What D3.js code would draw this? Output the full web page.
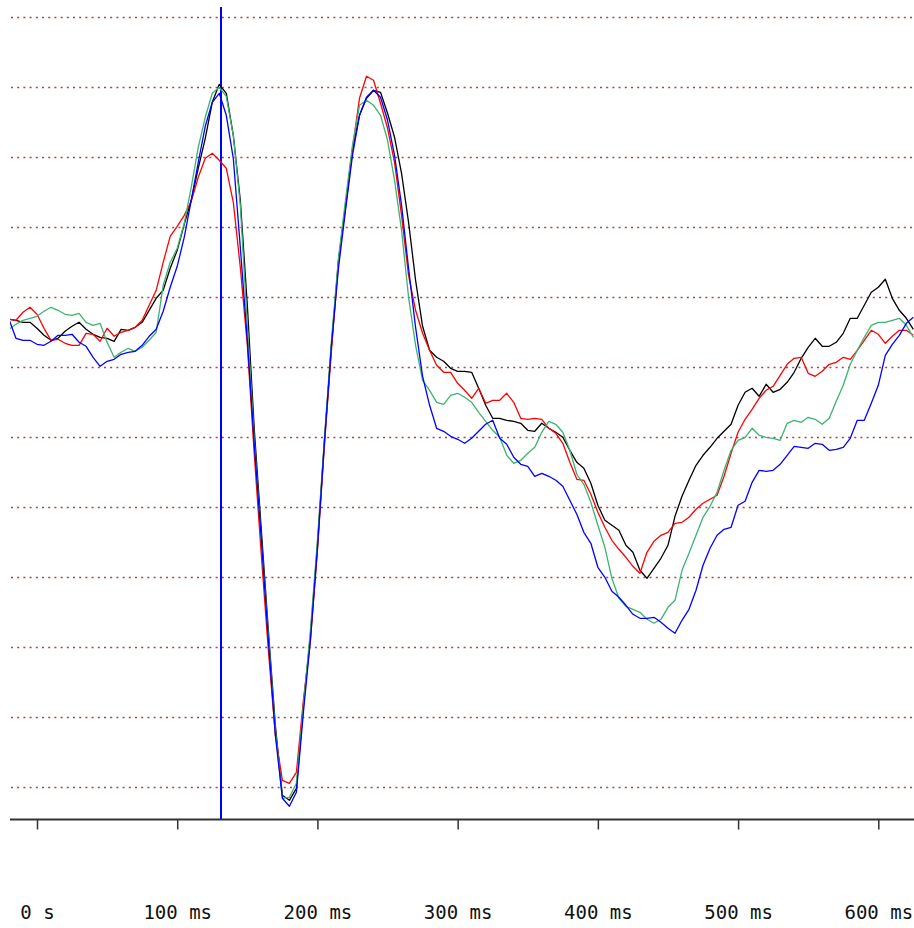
<!DOCTYPE html>
<html>
<head>
<meta charset="utf-8">
<script src="https://cdn.jsdelivr.net/npm/d3@7"></script>
<style>
  html, body { margin: 0; padding: 0; background: #ffffff; }
  svg { display: block; }
</style>
</head>
<body>
<svg id="chart" width="914" height="928"></svg>
<script>
// ---- data (amplitude, arbitrary units; sampled every 5 ms from -20 ms) ----
const sampleStartMs = -20;
const sampleStepMs = 5;

const seriesNames = ["black", "red", "green", "blue"];

const blackValues = [
  -2.2,-2.3,-2.5,-2.5,-3.1,-3.8,-4.3,-4.1,-3.4,-2.9,
  -2.5,-3.2,-3.7,-4.0,-4.1,-4.4,-3.2,-3.3,-3.0,-2.5,
  -1.3,-0.1,0.7,2.9,4.7,7.3,9.7,12.9,15.9,19.5,
  21.3,20.4,16.2,9.7,-0.8,-13.3,-23.3,-33.3,-42.8,-49.8,
  -50.3,-49.1,-40.8,-33.8,-24.8,-14.3,-4.8,3.7,9.0,14.7,
  18.2,19.9,20.7,20.5,18.4,16.0,12.4,7.5,1.7,-2.9,
  -5.3,-6.0,-6.4,-7.1,-7.4,-7.4,-7.5,-9.1,-10.8,-12.1,
  -12.1,-12.3,-12.4,-12.6,-13.3,-13.4,-12.6,-13.1,-13.5,-14.0,
  -15.3,-16.5,-17.1,-18.6,-20.8,-22.3,-22.8,-23.3,-24.8,-25.5,
  -27.3,-28.1,-27.1,-26.1,-24.8,-21.9,-19.9,-18.3,-16.8,-15.8,
  -15.0,-14.1,-13.4,-12.7,-10.8,-9.5,-9.1,-9.9,-8.7,-9.5,
  -9.2,-8.5,-7.5,-6.1,-5.0,-4.1,-4.9,-4.9,-4.5,-3.6,
  -2.1,-2.1,-0.8,0.5,1.0,1.8,-0.1,-1.3,-2.1,-3.2
];

const redValues = [
  -2.2,-2.3,-1.5,-1.0,-1.7,-3.1,-4.3,-4.2,-4.6,-4.8,
  -4.8,-3.6,-3.7,-4.4,-3.1,-3.9,-3.5,-3.3,-3.0,-2.3,
  -0.8,0.7,3.5,6.1,7.1,8.2,9.6,12.0,13.9,14.4,
  13.7,12.9,9.5,3.0,-4.8,-15.8,-25.8,-35.3,-43.8,-48.3,
  -48.6,-47.5,-40.3,-34.3,-25.3,-14.8,-5.3,3.5,9.2,14.9,
  19.9,22.1,21.7,19.4,16.9,13.5,8.2,2.2,-1.3,-3.6,
  -5.3,-6.8,-7.5,-7.5,-8.6,-9.3,-10.1,-9.1,-10.6,-10.3,
  -10.3,-9.6,-10.5,-12.1,-12.2,-12.1,-12.2,-13.1,-13.6,-14.6,
  -16.5,-18.2,-18.3,-19.7,-21.5,-23.0,-24.3,-25.2,-26.0,-26.9,
  -27.6,-25.5,-24.4,-23.8,-23.5,-22.6,-22.5,-22.0,-21.2,-20.6,
  -20.2,-19.8,-17.9,-15.6,-13.5,-12.2,-11.2,-10.1,-9.3,-8.9,
  -7.8,-6.7,-6.1,-6.0,-7.6,-7.9,-7.4,-6.7,-6.5,-6.0,
  -6.2,-5.3,-4.3,-3.3,-3.7,-4.6,-3.9,-3.3,-3.3,-3.8
];

const greenValues = [
  -3.2,-2.7,-2.3,-2.1,-1.9,-1.4,-1.0,-1.3,-1.7,-1.8,
  -1.6,-2.5,-2.8,-2.6,-4.5,-6.0,-5.5,-5.1,-5.4,-5.0,
  -4.3,-3.5,1.2,3.5,4.9,7.4,11.0,15.0,18.0,20.4,
  21.0,20.1,16.2,9.2,-2.8,-14.3,-24.3,-33.8,-43.3,-50.1,
  -50.0,-48.6,-40.8,-33.3,-24.3,-14.1,-4.3,3.9,9.7,15.2,
  19.2,19.7,19.2,18.2,15.7,11.7,6.7,0.0,-4.8,-8.3,
  -9.3,-10.5,-10.7,-9.8,-9.6,-10.0,-10.5,-11.5,-12.4,-13.3,
  -14.0,-15.8,-16.6,-16.3,-15.6,-15.0,-13.5,-12.4,-12.7,-13.5,
  -15.3,-17.7,-18.7,-20.5,-22.8,-25.0,-28.1,-30.1,-30.9,-31.2,
  -31.5,-32.2,-32.6,-32.2,-31.0,-30.3,-27.3,-25.6,-23.8,-22.0,
  -20.9,-19.5,-17.3,-15.3,-14.3,-14.0,-13.1,-13.8,-14.0,-14.1,
  -14.3,-12.6,-12.3,-12.5,-12.0,-12.2,-12.7,-12.1,-10.4,-8.8,
  -6.7,-5.3,-4.0,-2.8,-2.5,-2.5,-2.3,-2.1,-2.8,-4.0
];

const blueValues = [
  -2.2,-4.1,-4.3,-4.3,-4.7,-4.8,-4.4,-3.8,-3.8,-3.7,
  -4.5,-4.9,-6.0,-6.9,-6.4,-6.2,-5.7,-5.5,-5.4,-4.8,
  -3.9,-3.2,-1.4,1.0,3.1,6.0,9.7,13.5,17.1,19.5,
  20.4,18.2,13.9,5.0,-4.3,-14.8,-24.3,-34.3,-43.8,-50.1,
  -50.9,-49.5,-41.5,-34.3,-25.1,-14.5,-4.8,2.9,8.7,14.2,
  18.2,20.0,20.7,20.0,17.7,14.2,9.2,2.9,-3.0,-7.9,
  -10.8,-13.1,-13.4,-13.9,-14.2,-14.6,-14.1,-13.4,-12.7,-12.3,
  -14.1,-14.7,-16.0,-16.7,-16.9,-17.9,-17.6,-17.9,-18.3,-18.9,
  -20.3,-21.7,-23.5,-24.6,-27.0,-28.0,-29.4,-30.0,-30.8,-31.7,
  -32.1,-32.1,-32.0,-32.5,-33.1,-33.6,-32.3,-31.2,-29.3,-26.8,
  -25.1,-23.8,-23.2,-23.0,-20.8,-20.4,-18.5,-17.3,-17.4,-17.3,
  -16.7,-15.8,-14.9,-15.0,-15.1,-14.6,-14.7,-15.3,-15.2,-15.0,
  -14.1,-12.3,-12.3,-10.6,-8.8,-5.8,-4.7,-3.8,-2.6,-2.0
];

const tickValuesMs = [0, 100, 200, 300, 400, 500, 600];
const tickLabels = ["0 s", "100 ms", "200 ms", "300 ms", "400 ms", "500 ms", "600 ms"];
const gridValues = [28, 21, 14, 7, 0, -7, -14, -21, -28, -35, -42, -49];
const cursorMs = 131;

// ---- drawing ----
const W = 914, H = 928;
const plotLeft = 10, plotRight = 914, axisY = 819.5;

const svg = d3.select("#chart");

const x = d3.scaleLinear().domain([0, 600]).range([37, 878.3]);
const y = d3.scaleLinear().domain([28, -49]).range([17.3, 787.3]);

const colors = { black: "#000000", red: "#ff0000", green: "#3cb371", blue: "#0000ff" };
const valuesByName = { black: blackValues, red: redValues, green: greenValues, blue: blueValues };

// clip
svg.append("defs").append("clipPath").attr("id", "plotClip")
  .append("rect").attr("x", plotLeft).attr("y", 0)
  .attr("width", plotRight - plotLeft).attr("height", axisY);

// gridlines
svg.append("g").attr("class", "grid")
  .selectAll("line").data(gridValues).join("line")
  .attr("x1", plotLeft + 1).attr("x2", plotRight)
  .attr("y1", d => Math.round(y(d)) + 0.5)
  .attr("y2", d => Math.round(y(d)) + 0.5)
  .attr("stroke", "#a04848")
  .attr("stroke-width", 1.6)
  .attr("stroke-dasharray", "2 4.2");

// cursor line
svg.append("line")
  .attr("x1", Math.round(x(cursorMs))).attr("x2", Math.round(x(cursorMs)))
  .attr("y1", 7).attr("y2", axisY)
  .attr("stroke", "#0000ff").attr("stroke-width", 2);

// series lines
const lineGen = d3.line()
  .x((d, i) => x(sampleStartMs + i * sampleStepMs))
  .y(d => y(d));

svg.append("g").attr("clip-path", "url(#plotClip)")
  .selectAll("path").data(seriesNames).join("path")
  .attr("d", name => lineGen(valuesByName[name]))
  .attr("fill", "none")
  .attr("stroke", name => colors[name])
  .attr("stroke-width", 1.3)
  .attr("stroke-linejoin", "round");

// x axis
const axis = d3.axisBottom(x)
  .tickValues(tickValuesMs)
  .tickFormat((d, i) => tickLabels[i])
  .tickSize(10)
  .tickSizeOuter(0)
  .tickPadding(76);

const gAxis = svg.append("g").attr("transform", `translate(0,${axisY})`).call(axis);
gAxis.select(".domain").remove();
gAxis.selectAll(".tick line").attr("stroke", "#333").attr("stroke-width", 1.5);
gAxis.selectAll(".tick text")
  .attr("fill", "#111")
  .style("font-family", "'DejaVu Sans Mono', monospace")
  .style("font-size", "19px");
gAxis.append("line")
  .attr("x1", plotLeft).attr("x2", plotRight)
  .attr("y1", 0).attr("y2", 0)
  .attr("stroke", "#333").attr("stroke-width", 2);
</script>
</body>
</html>
